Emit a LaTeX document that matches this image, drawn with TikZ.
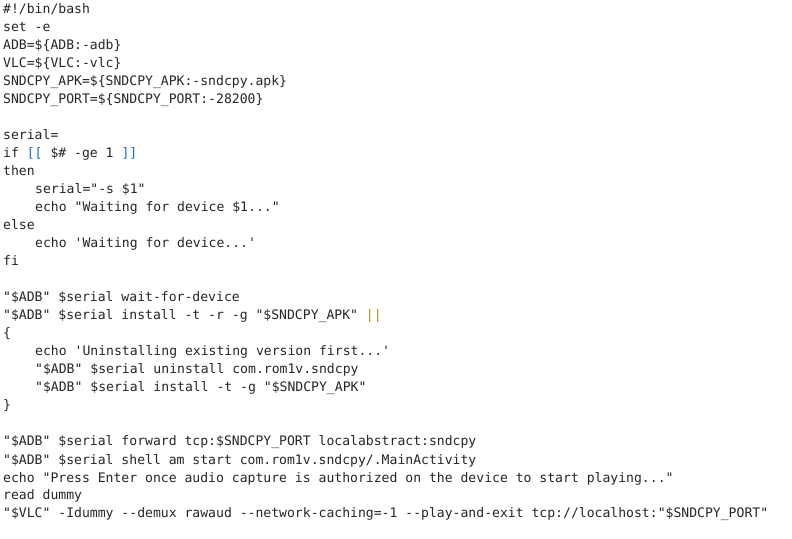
\documentclass[tikz,border=0pt]{standalone}
\usepackage{fontspec}
\newfontfamily\code{DejaVu Sans Mono}
\definecolor{kw}{HTML}{1F6FBF}
\definecolor{op}{HTML}{B8860B}
\begin{document}
\begin{tikzpicture}[x=1pt,y=1pt,ln/.style={anchor=base west,inner sep=0pt,font=\code\fontsize{13.1}{18}\selectfont,text=black!85}]
\useasboundingbox[fill=white] (0,0) rectangle (792,538);
\newcommand\Ln[3]{\node[ln] (l#1) at (#2,{538-14-18*#1}) {#3};}
\Ln{0}{3}{\#!/bin/bash}
\Ln{1}{3}{set -e}
\Ln{2}{3}{ADB=\$\{ADB:-adb\}}
\Ln{3}{3}{VLC=\$\{VLC:-vlc\}}
\Ln{4}{3}{SNDCPY\_APK=\$\{SNDCPY\_APK:-sndcpy.apk\}}
\Ln{5}{3}{SNDCPY\_PORT=\$\{SNDCPY\_PORT:-28200\}}
\Ln{7}{3}{serial=}
\Ln{8}{3}{if \textcolor{kw}{[[} \$\# -ge 1 \textcolor{kw}{]]}}
\Ln{9}{3}{then}
\Ln{10}{35}{serial="-s \$1"}
\Ln{11}{35}{echo "Waiting for device \$1..."}
\Ln{12}{3}{else}
\Ln{13}{35}{echo 'Waiting for device...'}
\Ln{14}{3}{fi}
\Ln{16}{3}{"\$ADB" \$serial wait-for-device}
\Ln{17}{3}{"\$ADB" \$serial install -t -r -g "\$SNDCPY\_APK" \textcolor{op}{||}}
\Ln{18}{3}{\{}
\Ln{19}{35}{echo 'Uninstalling existing version first...'}
\Ln{20}{35}{"\$ADB" \$serial uninstall com.rom1v.sndcpy}
\Ln{21}{35}{"\$ADB" \$serial install -t -g "\$SNDCPY\_APK"}
\Ln{22}{3}{\}}
\Ln{24}{3}{"\$ADB" \$serial forward tcp:\$SNDCPY\_PORT localabstract:sndcpy}
\Ln{25}{3}{"\$ADB" \$serial shell am start com.rom1v.sndcpy/.MainActivity}
\Ln{26}{3}{echo "Press Enter once audio capture is authorized on the device to start playing..."}
\Ln{27}{3}{read dummy}
\Ln{28}{3}{"\$VLC" -Idummy --demux rawaud --network-caching=-1 --play-and-exit tcp://localhost:"\$SNDCPY\_PORT"}
\end{tikzpicture}
\end{document}
